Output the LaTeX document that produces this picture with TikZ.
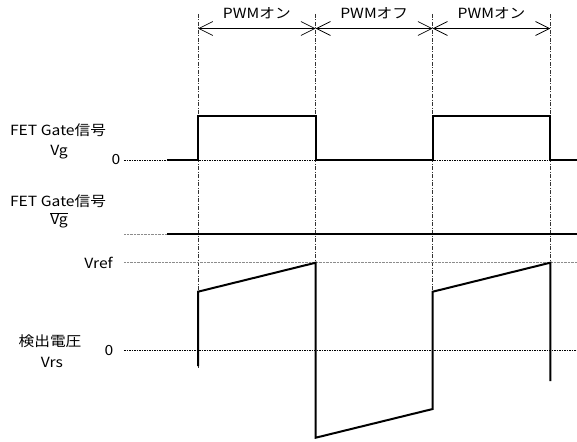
\documentclass[tikz,border=0pt]{standalone}
\usepackage{fontspec}
\setmainfont{Noto Sans CJK JP}[FakeStretch=1.12]
\usetikzlibrary{arrows.meta}
\begin{document}
\begin{tikzpicture}[x=1pt,y=-1pt,
  wave/.style={line width=2pt, line join=miter},
  guide/.style={line width=0.6pt, black!80, dash pattern=on 4pt off 1.5pt on 1pt off 1.5pt},
  zeroline/.style={line width=0.8pt, black, dash pattern=on 1.5pt off 1pt},
  refline/.style={line width=0.8pt, black!45, dash pattern=on 1pt off 0.4pt},
  span/.style={line width=0.7pt, {Straight Barb[length=14pt,width=14pt,line width=0.7pt]}-{Straight Barb[length=14pt,width=14pt,line width=0.7pt]}},
  lbl/.style={inner sep=0pt, font=\fontsize{14}{16}\selectfont},
  tick/.style={inner sep=0pt, font=\fontsize{14}{16}\selectfont}
]
\useasboundingbox (0,0) rectangle (577,441);
% time marks
\coordinate (t0) at (198,14);
\coordinate (t1) at (315.7,14);
\coordinate (t2) at (432.7,14);
\coordinate (t3) at (550.3,14);
\coordinate (b0) at (198,368);
\coordinate (b1) at (315.7,368);
\coordinate (b2) at (432.7,368);
\coordinate (b3) at (550.3,368);
\foreach \i in {0,1,2,3} \draw[guide] (t\i) -- (b\i);
% spans
\coordinate (a0) at (198,28.5);
\coordinate (a1) at (315.7,28.5);
\coordinate (a2) at (432.7,28.5);
\coordinate (a3) at (550.3,28.5);
\draw[span] (a0) -- (a1);
\draw[span] (a1) -- (a2);
\draw[span] (a2) -- (a3);
\node[lbl] (l1) at (256.8,13) {PWMオン};
\node[lbl] (l2) at (374.2,13) {PWMオフ};
\node[lbl] (l3) at (491.5,13) {PWMオン};
% reference lines
\coordinate (z0s) at (124,160); \coordinate (z0e) at (577,160);
\coordinate (nbs) at (124,234); \coordinate (nbe) at (167,234);
\coordinate (vrs) at (124,262.7); \coordinate (vre) at (577,262.7);
\coordinate (z2s) at (124,350.7); \coordinate (z2e) at (577,350.7);
\draw[zeroline] (z0s) -- (z0e);
\draw[refline] (nbs) -- (nbe);
\draw[refline] (vrs) -- (vre);
\draw[zeroline] (z2s) -- (z2e);
% Vg
\draw[wave] (167,160) -- (198,160) -- (198,116) -- (315.7,116) -- (315.7,160)
  -- (432.7,160) -- (432.7,116) -- (550.3,116) -- (550.3,160) -- (577,160);
% Vg bar
\coordinate (gbs) at (167,234); \coordinate (gbe) at (577,234);
\draw[wave] (gbs) -- (gbe);
% Vrs
\draw[wave] (198,366) -- (198,291.7) -- (315.7,262.7) -- (315.7,437.7)
  -- (432.7,409) -- (432.7,291.7) -- (550.3,262.7) -- (550.3,381);
% labels
\node[lbl] (g1) at (58,130) {FET Gate信号};
\node[lbl] (g1v) at (59,152) {Vg};
\node[tick] (g1z) at (116,160) {0};
\node[lbl] (g2) at (58,201) {FET Gate信号};
\node[lbl] (g2v) at (59,220) {$\overline{\hbox{Vg}}$};
\node[tick, anchor=east] (vref) at (113,262.7) {Vref};
\node[lbl] (d1) at (50,341) {検出電圧};
\node[lbl] (d1v) at (52,362) {Vrs};
\node[tick] (d1z) at (109,350.7) {0};
\end{tikzpicture}
\end{document}
